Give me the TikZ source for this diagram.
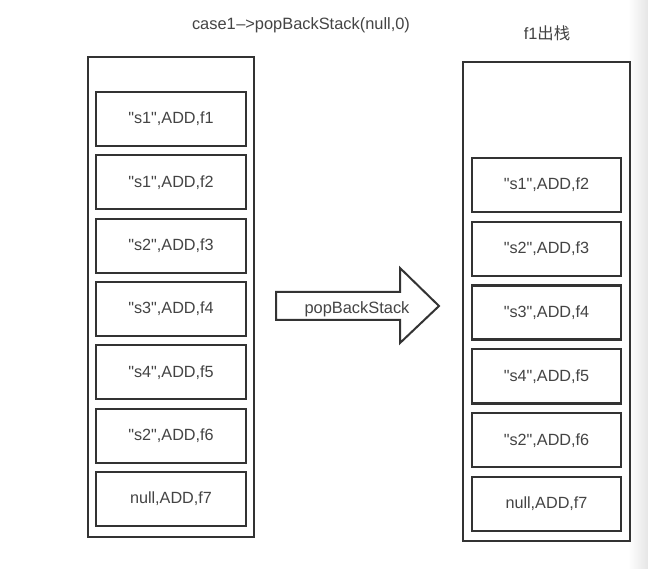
\documentclass[tikz,border=0pt]{standalone}
\usepackage{fontspec}
\setmainfont[Ligatures=TeXOff]{Liberation Sans}
\newfontfamily\cjk{Noto Sans CJK SC}
\definecolor{linec}{HTML}{333333}
\definecolor{textc}{HTML}{444444}
\begin{document}
\begin{tikzpicture}[x=1pt,y=-1pt,
  outerbox/.style={draw=linec,line width=2pt,inner sep=0pt},
  cellbox/.style={draw=linec,line width=2.2pt,minimum width=150pt,minimum height=54pt,inner sep=0pt,
    text=textc,font=\fontsize{16.2}{19}\selectfont},
  lbl/.style={text=textc,font=\fontsize{16.4}{19}\selectfont,inner sep=0pt}]
\useasboundingbox (0,0) rectangle (648,569);
\fill[white] (0,0) rectangle (648,569);
\shade[left color=white,right color=black!10] (628,0) rectangle (648,569);
% titles
\node[lbl] (title) at (301,25) {case1{\kern0.5pt}–>popBackStack(null,0)};
\node[lbl] (title2) at (547,33) {f1{\cjk 出栈}};
% left stack
\node[outerbox,minimum width=166pt,minimum height=480pt] (L) at (171,297) {};
\node[cellbox] (l1) at (171,119) {"s1",ADD,f1};
\node[cellbox] (l2) at (171,182.3) {"s1",ADD,f2};
\node[cellbox] (l3) at (171,245.7) {"s2",ADD,f3};
\node[cellbox] (l4) at (171,309) {"s3",ADD,f4};
\node[cellbox] (l5) at (171,372.3) {"s4",ADD,f5};
\node[cellbox] (l6) at (171,435.7) {"s2",ADD,f6};
\node[cellbox] (l7) at (171,499) {null,ADD,f7};
% right stack
\node[outerbox,minimum width=167pt,minimum height=479pt] (R) at (546.5,301.5) {};
\node[cellbox,minimum width=149pt] (r2) at (546.5,185) {"s1",ADD,f2};
\node[cellbox,minimum width=149pt] (r3) at (546.5,248.8) {"s2",ADD,f3};
\node[cellbox,minimum width=149pt] (r4) at (546.5,312.6) {"s3",ADD,f4};
\node[cellbox,minimum width=149pt] (r5) at (546.5,376.4) {"s4",ADD,f5};
\node[cellbox,minimum width=149pt] (r6) at (546.5,440.2) {"s2",ADD,f6};
\node[cellbox,minimum width=149pt] (r7) at (546.5,504) {null,ADD,f7};
% arrow
\draw[linec,line width=2pt,line join=miter,fill=white]
  (276,292) -- (400,292) -- (400,268) -- (439,306) -- (400,343) -- (400,320) -- (276,320) -- cycle;
\node[lbl] (arrowlbl) at (357,309) {popBackStack};
\end{tikzpicture}
\end{document}
